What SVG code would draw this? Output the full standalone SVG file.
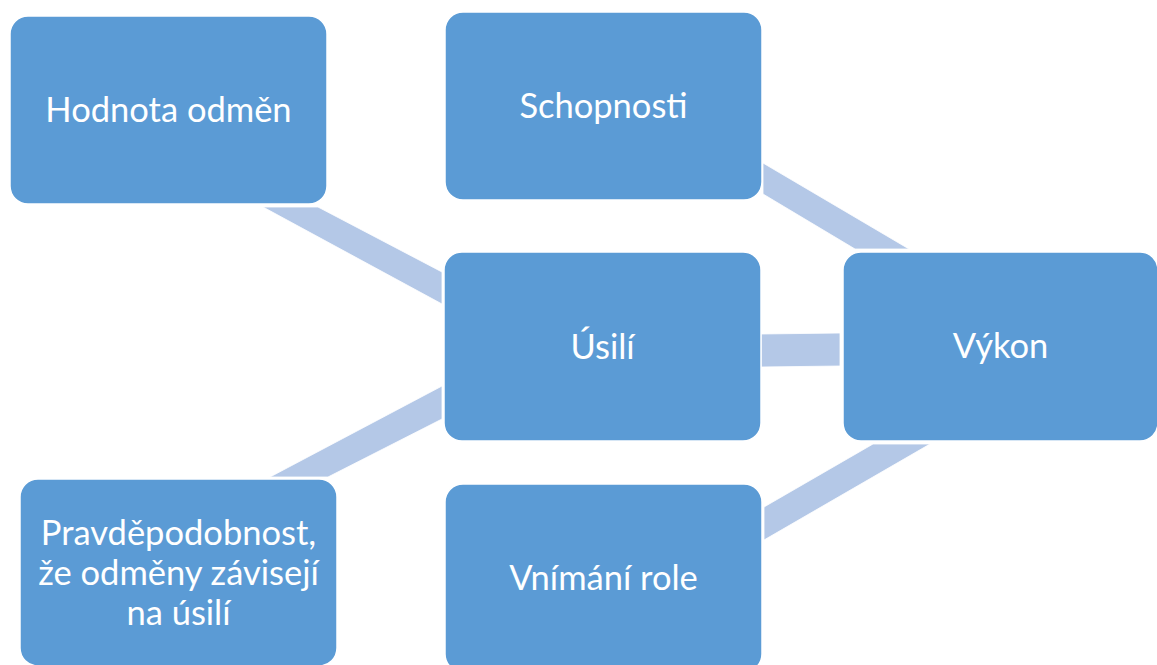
<svg xmlns="http://www.w3.org/2000/svg" width="1157" height="665" viewBox="0 0 1157 665">
<style>
.box{fill:#5b9bd5;stroke:#ffffff;stroke-width:1.5}
.lnk{fill:#b4c8e7;stroke:#ffffff;stroke-width:0.8}
.t{font-family:Lato,"Open Sans","Liberation Sans",sans-serif;font-size:34.5px;fill:#ffffff;text-anchor:middle}
</style>
<rect width="1157" height="665" fill="#ffffff"/>
<g id="connectors">
<polygon class="lnk" points="263,207 318,207 442,272 442,304"/>
<polygon class="lnk" points="270,477 328,477 442,419 442,386"/>
<polygon class="lnk" points="763,163 909,249 855,249 763,194"/>
<polygon class="lnk" points="761,334 840,333 840,366 761,367"/>
<polygon class="lnk" points="873,444 930,444 764,540 764,507"/>
</g>
<g id="hodnota">
<rect class="box" x="10" y="16" width="317" height="188" rx="18"/>
<text class="t" x="168.5" y="122">Hodnota odměn</text>
</g>
<g id="schopnosti">
<rect class="box" x="445" y="12" width="317" height="188" rx="18"/>
<text class="t" x="603.5" y="117.5">Schopnosti</text>
</g>
<g id="usili">
<rect class="box" x="444" y="252" width="317" height="189" rx="18"/>
<text class="t" x="602.5" y="358.5">Úsilí</text>
</g>
<g id="vykon">
<rect class="box" x="843" y="252" width="315" height="189" rx="18"/>
<text class="t" x="1000.5" y="357.5">Výkon</text>
</g>
<g id="pravdepodobnost">
<rect class="box" x="20" y="479" width="317" height="187" rx="18"/>
<text class="t" x="178.5" y="545">Pravděpodobnost,</text>
<text class="t" x="178.5" y="585">že odměny závisejí</text>
<text class="t" x="178.5" y="625">na úsilí</text>
</g>
<g id="vnimani">
<rect class="box" x="445" y="484" width="317" height="188" rx="18"/>
<text class="t" x="603.5" y="590">Vnímání role</text>
</g>
</svg>
